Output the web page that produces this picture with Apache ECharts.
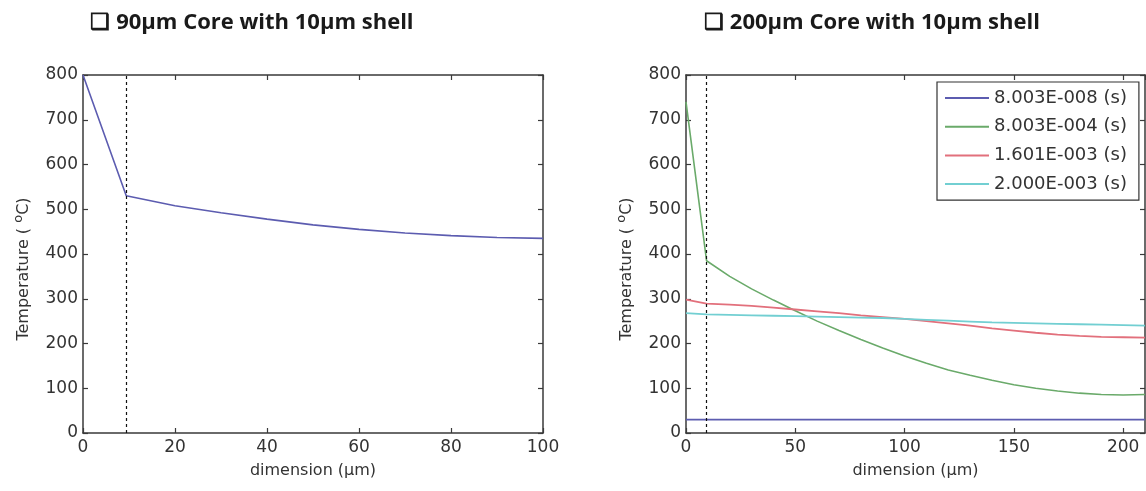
<!DOCTYPE html>
<html>
<head>
<meta charset="utf-8">
<script src="https://cdn.jsdelivr.net/npm/echarts@6/dist/echarts.min.js"></script>
<style>
html,body{margin:0;padding:0;background:#fff;}
#c{width:1146px;height:491px;}
</style>
</head>
<body>
<div id="c"></div>
<script>
// ---- data ----
var leftTitle = '❑ 90μm Core with 10μm shell';
var rightTitle = '❑ 200μm Core with 10μm shell';
var shellX = 9.4;

var leftX = [0, 9.4, 20, 30, 40, 50, 60, 70, 80, 90, 100];
var leftY = [800, 530, 508, 492, 478, 465, 455, 447, 441, 437, 435];

var rightX = [0, 9.4, 20, 30, 40, 50, 60, 70, 80, 90, 100, 110, 120, 130, 140, 150, 160, 170, 180, 190, 200, 210];
var seriesNames = ['8.003E-008 (s)', '8.003E-004 (s)', '1.601E-003 (s)', '2.000E-003 (s)'];
var yBlue  = [30, 30, 30, 30, 30, 30, 30, 30, 30, 30, 30, 30, 30, 30, 30, 30, 30, 30, 30, 30, 30, 30];
var yGreen = [740, 385, 350, 322, 297, 273, 250, 229, 209, 190, 172, 156, 141, 129, 118, 108, 100, 94, 89, 86, 85, 86];
var yRed   = [298, 289, 287, 284, 280, 276, 272, 268, 263, 259, 255, 250, 245, 240, 234, 229, 224, 220, 217, 215, 214, 213];
var yCyan  = [268, 265, 264, 263, 262, 261, 260, 259, 258, 257, 255, 253, 251, 249, 247, 246, 245, 244, 243, 242, 241, 240];
var colors = ['#5c5cb0', '#6aaa6a', '#e2707c', '#72cfd2'];

function pairs(xs, ys){ return xs.map(function(x,i){ return [x, ys[i]]; }); }

var FONT = 'DejaVu Sans';
var axisCol = '#3a3a3a';

function xAxes(grid, max, interval){
  var common = {
    type:'value', gridIndex:grid, min:0, max:max, interval:interval,
    splitLine:{show:false},
    axisLine:{show:true, onZero:false, lineStyle:{color:axisCol, width:1.5}},
    axisTick:{show:true, inside:true, length:5, lineStyle:{color:axisCol, width:1.2}}
  };
  return [
    Object.assign({}, common, {position:'bottom',
      name:'dimension (μm)', nameLocation:'middle', nameGap:30,
      nameTextStyle:{fontFamily:FONT, fontSize:16, color:'#333'},
      axisLabel:{show:true, fontFamily:FONT, fontSize:17, color:'#333', margin:6}}),
    Object.assign({}, common, {position:'top', axisLabel:{show:false}})
  ];
}
function yAxes(grid){
  var common = {
    type:'value', gridIndex:grid, min:0, max:800, interval:100,
    splitLine:{show:false},
    axisLine:{show:true, onZero:false, lineStyle:{color:axisCol, width:1.5}},
    axisTick:{show:true, inside:true, length:5, lineStyle:{color:axisCol, width:1.2}}
  };
  return [
    Object.assign({}, common, {position:'left',
      name:'Temperature ( {sup|o}C)', nameLocation:'middle', nameGap:48,
      nameTextStyle:{fontFamily:FONT, fontSize:16, color:'#333', padding:[0,30,0,0],
        rich:{sup:{fontFamily:FONT, fontSize:13, color:'#333', verticalAlign:'bottom', padding:[0,0,10,0]}}},
      axisLabel:{show:true, fontFamily:FONT, fontSize:17, color:'#333', margin:5}}),
    Object.assign({}, common, {position:'right', axisLabel:{show:false}})
  ];
}

var xs = xAxes(0, 100, 20).concat(xAxes(1, 210, 50));
var ys = yAxes(0).concat(yAxes(1));

function mk(){
  return {silent:true, symbol:['none','none'], label:{show:false},
    lineStyle:{color:'#111', type:[3,3], width:1.2}, data:[{xAxis:shellX}]};
}

var option = {
  backgroundColor:'#fff',
  animation:false,
  title:[
    {text:leftTitle, left:247, top:7, textAlign:'center',
     textStyle:{fontFamily:'Open Sans', fontWeight:'bold', fontSize:22, color:'#1a1a1a'}},
    {text:rightTitle, left:867, top:7, textAlign:'center',
     textStyle:{fontFamily:'Open Sans', fontWeight:'bold', fontSize:22, color:'#1a1a1a'}}
  ],
  grid:[
    {left:83, top:75, width:460, height:358},
    {left:686, top:75, width:459, height:358}
  ],
  legend:{
    show:true, orient:'vertical', left:937, top:82,
    padding:[6,12,6,8], itemGap:8.7, itemWidth:44, itemHeight:2, icon:'rect',
    backgroundColor:'#fff', borderColor:'#333', borderWidth:1.2,
    textStyle:{fontFamily:FONT, fontSize:18, color:'#333', lineHeight:20},
    data:seriesNames
  },
  xAxis:xs,
  yAxis:ys,
  series:[
    {type:'line', name:'left', xAxisIndex:0, yAxisIndex:0, data:pairs(leftX, leftY),
     symbol:'none', lineStyle:{color:colors[0], width:1.6}, markLine:mk()},
    {type:'line', name:seriesNames[0], xAxisIndex:2, yAxisIndex:2, data:pairs(rightX, yBlue),
     symbol:'none', color:colors[0], lineStyle:{color:colors[0], width:1.8}, markLine:mk()},
    {type:'line', name:seriesNames[1], xAxisIndex:2, yAxisIndex:2, data:pairs(rightX, yGreen),
     symbol:'none', color:colors[1], lineStyle:{color:colors[1], width:1.6}},
    {type:'line', name:seriesNames[2], xAxisIndex:2, yAxisIndex:2, data:pairs(rightX, yRed),
     symbol:'none', color:colors[2], lineStyle:{color:colors[2], width:1.8}},
    {type:'line', name:seriesNames[3], xAxisIndex:2, yAxisIndex:2, data:pairs(rightX, yCyan),
     symbol:'none', color:colors[3], lineStyle:{color:colors[3], width:1.8}}
  ]
};
var chart = echarts.init(document.getElementById('c'), null, {renderer:'canvas'});
chart.setOption(option);
</script>
</body>
</html>
